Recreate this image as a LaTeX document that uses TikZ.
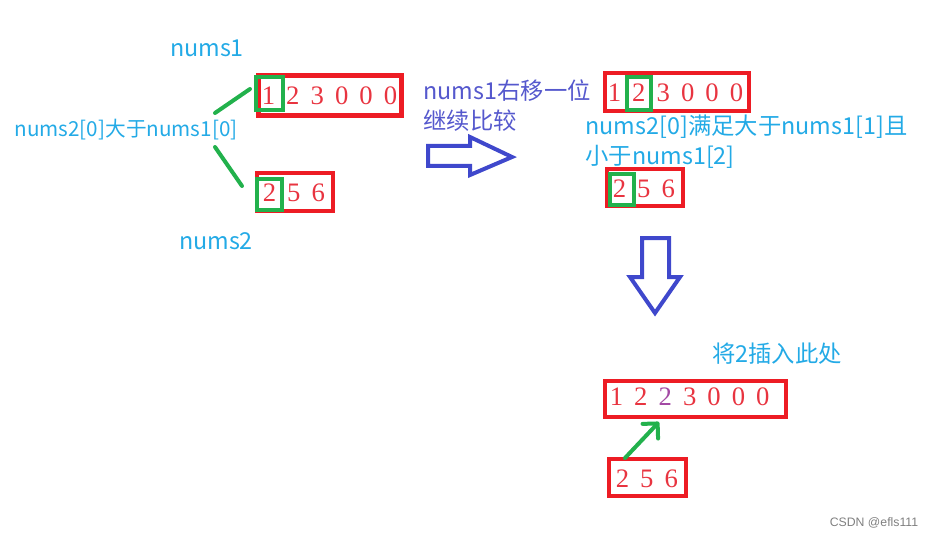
\documentclass[tikz,border=0pt]{standalone}
\usepackage{fontspec}
\usetikzlibrary{arrows.meta}
\newfontfamily\cjk{Noto Sans CJK SC}
\newfontfamily\markfont{Liberation Sans}
\newfontfamily\digitfont{Liberation Serif}
\definecolor{boxred}{RGB}{237,28,36}
\definecolor{markgreen}{RGB}{34,177,76}
\definecolor{arrowblue}{RGB}{63,72,204}
\definecolor{notecyan}{RGB}{35,170,230}
\definecolor{noteblue}{RGB}{85,88,205}
\definecolor{digitred}{RGB}{232,52,64}
\definecolor{digitpurple}{RGB}{163,73,164}

\tikzset{every picture/.style={line width=0.75pt},
  redbox/.style={draw=boxred,line width=3.4pt},
  greenbox/.style={draw=markgreen,line width=3pt},
  greenline/.style={draw=markgreen,line width=3pt,line cap=round},
  blockarrow/.style={draw=arrowblue,line width=3pt,line join=miter},
  digits/.style={anchor=west,inner sep=0pt,text=digitred,font={\digitfont\fontsize{20}{24}\selectfont\spaceskip=8.3pt\relax}},
  note/.style={inner sep=0pt,text=notecyan,font={\cjk\fontsize{17.5}{22.5}\selectfont}}
}

\begin{document}
\begin{tikzpicture}[x=0.75pt,y=0.75pt,yscale=-1,xscale=1]
\useasboundingbox (0,0) rectangle (937,538);

%Shape: Rectangle, nums1 first step
\draw[redbox] (258.5,75.5) rectangle (401.5,115.5);
%Shape: Rectangle, nums2 first step
\draw[redbox] (257,173) rectangle (333,211);
%Shape: Rectangle, nums1 second step
\draw[redbox] (605,73) rectangle (749,111);
%Shape: Rectangle, nums2 second step
\draw[redbox] (607,169) rectangle (683,206);
%Shape: Rectangle, nums1 after insert
\draw[redbox] (605,381) rectangle (786,417);
%Shape: Rectangle, nums2 after insert
\draw[redbox] (609,459) rectangle (686,496);

% Text Node
\node[digits] (rowa) at (261.3,96) {1 2 3 0 0 0};
% Text Node
\node[digits] (rowb) at (262.3,193) {2 5 6};
% Text Node
\node[digits] (rowc) at (607.3,93) {1 2 3 0 0 0};
% Text Node
\node[digits] (rowd) at (612.3,189) {2 5 6};
% Text Node
\node[digits] (rowe) at (609.3,397) {1 2 {\color{digitpurple}2} 3 0 0 0};
% Text Node
\node[digits] (rowf) at (615.3,479) {2 5 6};

%Shape: Rectangle, current elements
\draw[greenbox] (255.5,77.5) rectangle (282.5,110.5);
\draw[greenbox] (257,179) rectangle (282,210);
\draw[greenbox] (627,77) rectangle (651,110);
\draw[greenbox] (610,174) rectangle (634,205);

% Text Node
\node[note] (labnumsa) at (207,48) {nums1};
% Text Node
\node[note,font={\cjk\fontsize{15.5}{20}\selectfont}] (labcmp) at (126,130) {nums2[0]大于nums1[0]};
% Text Node
\node[note] (labnumsb) at (216,241) {nums2};
% Text Node
\node[note,text=noteblue,anchor=west,align=left] (labshift) at (423,106) {nums1右移一位\\继续比较};
% Text Node
\node[note,anchor=west,align=left] (labrange) at (585,142) {nums2[0]满足大于nums1[1]且\\小于nums1[2]};
% Text Node
\node[note] (labinsert) at (777,354) {将2插入此处};
% Text Node
\node[inner sep=0pt,text=gray,font={\markfont\fontsize{9.2}{11}\selectfont}] (watermark) at (874,523) {CSDN @efls111};

%Straight Lines
\coordinate (cmpup) at (215,113);
\coordinate (rowaend) at (250,89);
\coordinate (cmpdown) at (215,147);
\coordinate (rowbend) at (242,186);
\draw[greenline] (cmpup) -- (rowaend);
\draw[greenline] (cmpdown) -- (rowbend);

%Straight Lines, insert arrow
\coordinate (inserttail) at (625,458);
\coordinate (inserthead) at (659,422);
\draw[greenline,-{Straight Barb[length=8pt,width=16pt,round]}] (inserttail) -- (inserthead);

%Shape: Right Arrow
\draw[blockarrow] (428,146) -- (470,146) -- (470,137) -- (512,157) -- (470,175) -- (470,166) -- (428,166) -- cycle;
%Shape: Down Arrow
\draw[blockarrow] (642,238) -- (669,238) -- (669,277) -- (680,277) -- (655,313) -- (630,277) -- (642,277) -- cycle;

\end{tikzpicture}
\end{document}
